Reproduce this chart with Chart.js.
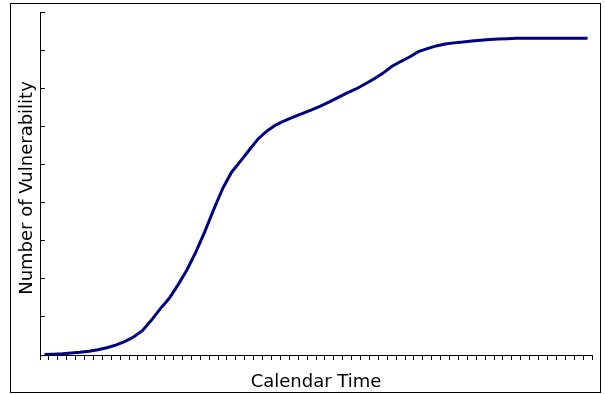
<!DOCTYPE html>
<html>
<head>
<meta charset="utf-8">
<script src="https://cdn.jsdelivr.net/npm/chart.js@4/dist/chart.umd.min.js"></script>
<style>
  html, body { margin: 0; padding: 0; background: #fff; }
  #wrap { width: 605px; height: 394px; }
</style>
</head>
<body>
<div id="wrap"><canvas id="c" width="605" height="394"></canvas></div>
<script>
// Cumulative vulnerabilities discovered per calendar period
const periods = Array.from({ length: 62 }, (_, i) => String(i + 1));
const vulnerabilities = [
  0.1, 0.2, 0.3, 0.5, 0.7, 1.0, 1.4, 1.9, 2.6, 3.5,
  4.7, 6.4, 9.1, 12.1, 14.8, 18.4, 22.3, 27.0, 32.3, 38.1,
  43.6, 47.9, 50.8, 53.8, 56.7, 58.8, 60.4, 61.5, 62.5, 63.4,
  64.3, 65.3, 66.4, 67.6, 68.8, 69.8, 71.1, 72.4, 73.9, 75.7,
  77.0, 78.2, 79.6, 80.4, 81.1, 81.6, 81.9, 82.1, 82.4, 82.6,
  82.8, 82.9, 83.0, 83.1, 83.1, 83.1, 83.1, 83.1, 83.1, 83.1,
  83.1, 83.1
];
const yTicks = [0, 10, 20, 30, 40, 50, 60, 70, 80, 90];

const xTitle = 'Calendar Time';
const yTitle = 'Number of Vulnerability';

// Outer frame and axis titles
const framePlugin = {
  id: 'frame',
  afterDraw(chart) {
    const ctx = chart.ctx;
    const area = chart.chartArea;
    ctx.save();
    ctx.strokeStyle = '#000';
    ctx.lineWidth = 1;
    ctx.strokeRect(10.5, 3.5, 590, 389);
    ctx.fillStyle = '#000';
    ctx.font = '18px "DejaVu Sans", Verdana, sans-serif';
    ctx.textAlign = 'center';
    ctx.textBaseline = 'middle';
    ctx.fillText(xTitle, (area.left + area.right) / 2, 382);
    ctx.translate(27, 188);
    ctx.rotate(-Math.PI / 2);
    ctx.fillText(yTitle, 0, 0);
    ctx.restore();
  }
};

new Chart(document.getElementById('c'), {
  type: 'line',
  data: {
    labels: periods,
    datasets: [{
      data: vulnerabilities,
      borderColor: '#000080',
      borderWidth: 3,
      pointRadius: 0,
      tension: 0,
      fill: false
    }]
  },
  options: {
    responsive: false,
    animation: false,
    devicePixelRatio: 1,
    layout: { padding: { left: 0, top: 12, right: 13, bottom: 0 } },
    plugins: { legend: { display: false }, tooltip: { enabled: false } },
    scales: {
      x: {
        type: 'category',
        offset: true,
        afterFit(scale) { scale.height = 39; },
        grid: {
          offset: true,
          drawOnChartArea: false,
          drawTicks: true,
          tickLength: 5,
          color: '#000'
        },
        border: { display: true, color: '#000', width: 1 },
        ticks: { display: false, autoSkip: false }
      },
      y: {
        min: 0,
        max: 90,
        afterFit(scale) { scale.width = 40; },
        afterBuildTicks(scale) { scale.ticks = yTicks.map(v => ({ value: v })); },
        grid: {
          drawOnChartArea: false,
          drawTicks: true,
          tickLength: -5,
          color: '#000'
        },
        border: { display: true, color: '#000', width: 1 },
        ticks: { display: false, stepSize: 10 }
      }
    }
  },
  plugins: [framePlugin]
});
</script>
</body>
</html>
